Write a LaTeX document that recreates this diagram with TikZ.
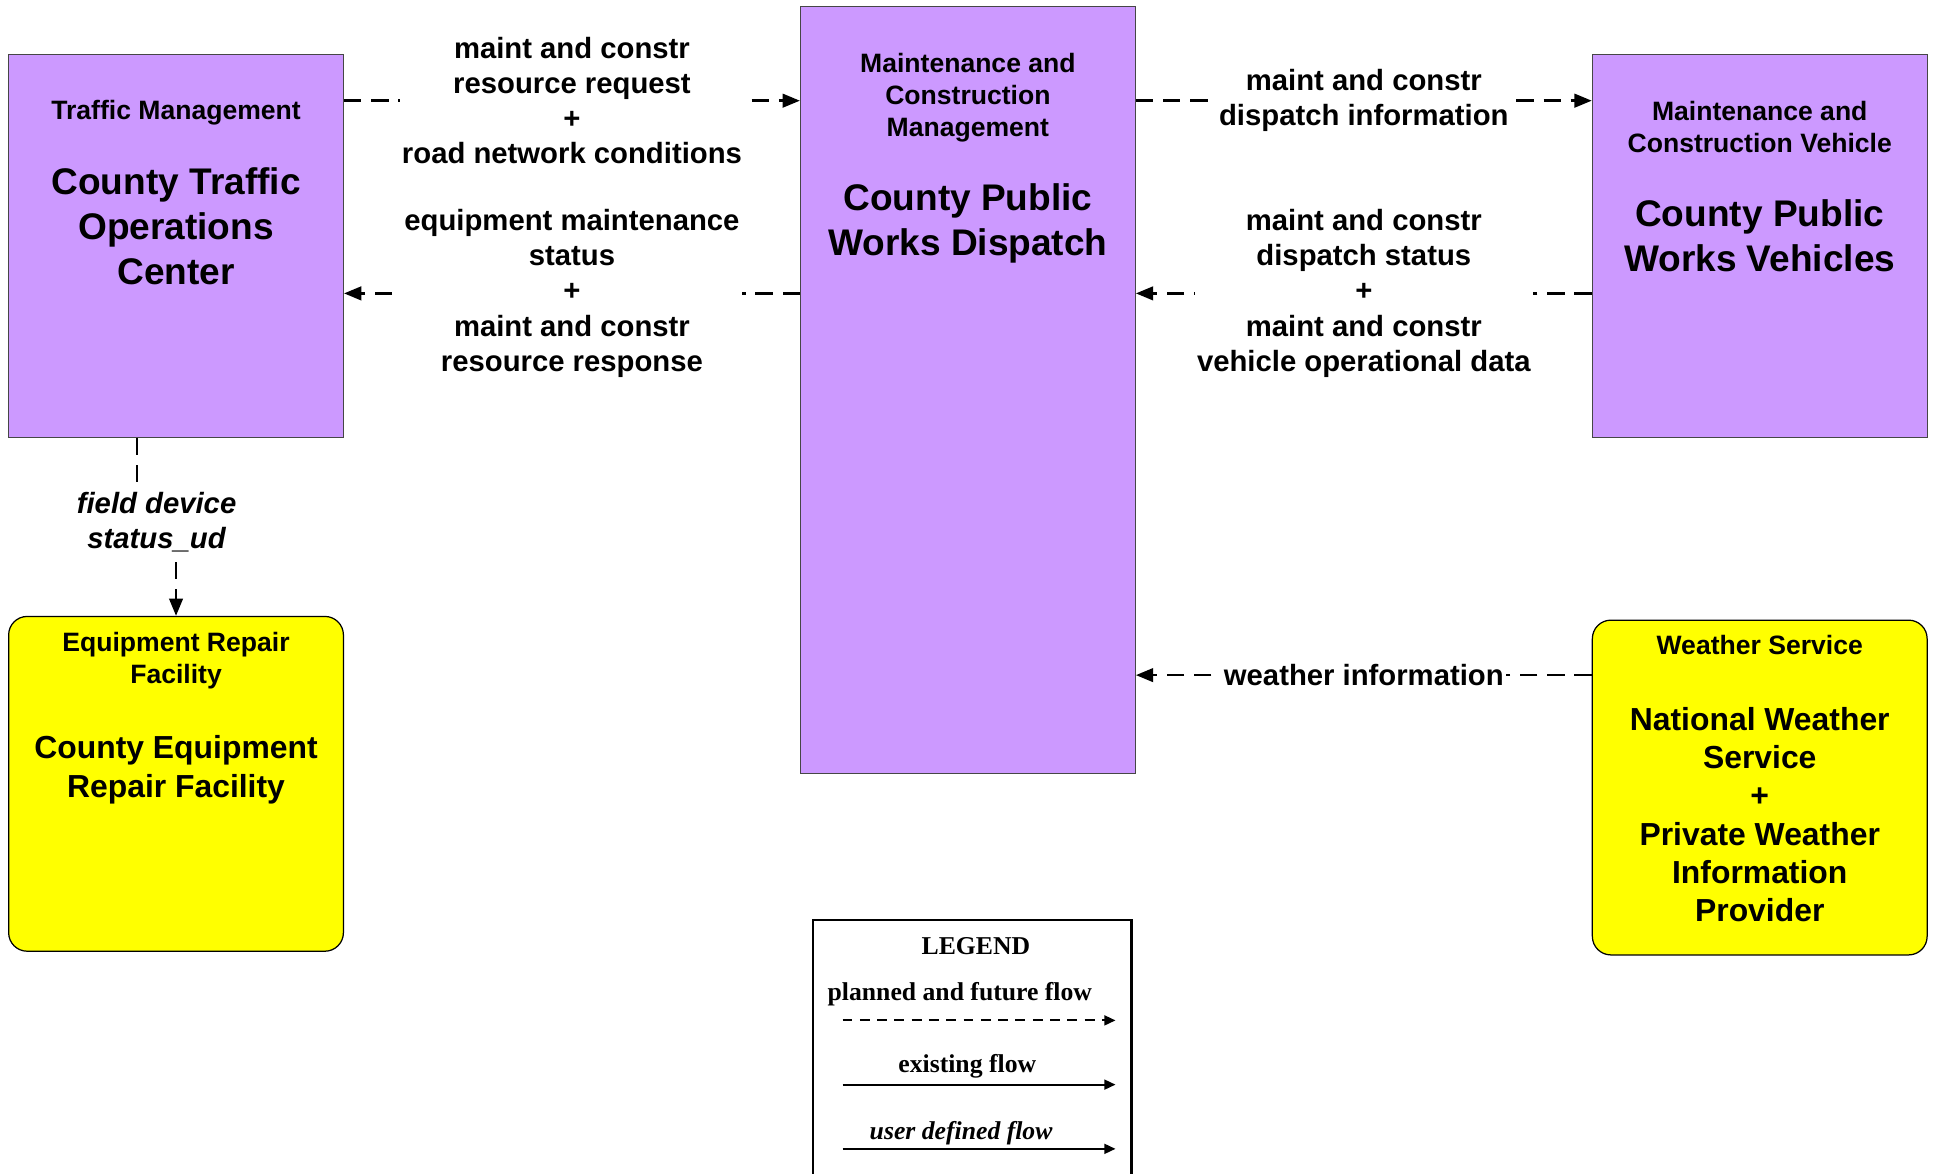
\documentclass[tikz,border=0pt]{standalone}
\usepackage{fontspec}
\setmainfont{Liberation Sans}
\newfontfamily\legfont{Liberation Serif}
\usetikzlibrary{positioning,arrows.meta,calc}
\definecolor{pFill}{RGB}{204,153,255}
\definecolor{yFill}{RGB}{255,255,0}
\definecolor{bLine}{RGB}{70,70,70}
\newcommand{\fTitle}{\fontsize{21.5}{26}\selectfont\bfseries}
\newcommand{\fName}{\fontsize{30}{36.5}\selectfont\bfseries}
\newcommand{\fNameS}{\fontsize{25.8}{31}\selectfont\bfseries}
\newcommand{\fFlow}{\fontsize{23.7}{28.5}\selectfont\bfseries}
\newcommand{\fLeg}{\legfont\fontsize{20.8}{25}\selectfont\bfseries}
\tikzset{
  sub/.style={rectangle, draw=bLine, fill=pFill, line width=1pt,
              minimum width=271pt, inner sep=0pt},
  term/.style={rectangle, rounded corners=15pt, draw=black, fill=yFill, line width=1pt,
               minimum width=271pt, minimum height=271pt, inner sep=0pt},
  ttl/.style={align=center, font=\fTitle, inner sep=0pt},
  nm/.style={align=center, font=\fName, inner sep=0pt},
  nms/.style={align=center, font=\fNameS, inner sep=0pt},
  flowd/.style={-{Triangle[length=14pt,width=11pt]}, line width=2pt,
                dash pattern=on 14pt off 8pt},
  lbl/.style={align=center, font=\fFlow, fill=white, inner sep=2pt},
  legbox/.style={rectangle, draw=black, line width=1.8pt, minimum width=258pt,
                 minimum height=232pt, anchor=north west},
  legtxt/.style={font=\fLeg, inner sep=0pt},
  legflow/.style={-{Triangle[length=9pt,width=8pt]}, line width=1.6pt},
}
\newcommand{\Flow}[3]{% {from}{to}{label}
  \draw[flowd] (#1) -- node[lbl]{#3} (#2);}

\begin{document}
\begin{tikzpicture}[x=1pt, y=-1pt]
  \useasboundingbox (0,0) rectangle (1568,950);
  % subsystems
  \node[sub, minimum height=310pt] (tmc) at (142.5,199) {};
  \node[sub, minimum height=621pt] (mcm) at (783.5,315.5) {};
  \node[sub, minimum height=310pt] (mcv) at (1424.5,199) {};
  \node[term] (erf) at (142.5,634.5) {};
  \node[term] (nws) at (1424.5,637.5) {};
  \node[ttl] (tmc-t) at (142.5,91) {Traffic Management};
  \node[nm]  (tmc-n) at (142.5,183) {County Traffic\\Operations\\Center};
  \node[ttl] (mcm-t) at (783.5,79) {Maintenance and\\Construction\\Management};
  \node[nm]  (mcm-n) at (783.5,181) {County Public\\Works Dispatch};
  \node[ttl] (mcv-t) at (1424.5,103) {Maintenance and\\Construction Vehicle};
  \node[nm]  (mcv-n) at (1424.5,190.5) {County Public\\Works Vehicles};
  \node[ttl] (erf-t) at (142.5,534.5) {Equipment Repair\\Facility};
  \node[nms] (erf-n) at (142.5,623) {County Equipment\\Repair Facility};
  \node[ttl] (nws-t) at (1424.5,522) {Weather Service};
  \node[nms] (nws-n) at (1424.5,659.5) {National Weather\\Service\\+\\Private Weather\\Information\\Provider};
  % flows
  \coordinate (fa) at ([yshift=-38pt]tmc.north east);
  \coordinate (fb) at ([yshift=-194pt]tmc.north east);
  \coordinate (fe) at ([yshift=-45pt]nws.north west);
  \Flow{fa}{fa -| mcm.west}{maint and constr\\resource request\\+\\road network conditions}
  \Flow{fb -| mcm.west}{fb}{equipment maintenance\\status\\+\\maint and constr\\resource response}
  \Flow{fa -| mcm.east}{fa -| mcv.west}{maint and constr\\dispatch information}
  \Flow{fb -| mcv.west}{fb -| mcm.east}{maint and constr\\dispatch status\\+\\maint and constr\\vehicle operational data}
  \Flow{fe}{fe -| mcm.east}{weather information}
  \draw[flowd] ([xshift=-31.5pt]tmc.south) -- ++(0,68)
    -| node[lbl, font=\fFlow\itshape, pos=0.25]{field device\\status\_ud} (erf.north);
  % legend
  \node[legbox] (legend) at (657,744) {};
  \node[legtxt] (leg-h) at (790,766) {LEGEND};
  \node[legtxt] (leg-p) at (777,805) {planned and future flow};
  \node[legtxt] (leg-e) at (783,863) {existing flow};
  \node[legtxt, font=\fLeg\itshape] (leg-u) at (778,917) {user defined flow};
  \coordinate (lp1) at (682,826); \coordinate (lp2) at (903,826);
  \coordinate (le1) at (682,878); \coordinate (le2) at (903,878);
  \coordinate (lu1) at (682,930); \coordinate (lu2) at (903,930);
  \draw[legflow, dash pattern=on 8pt off 6pt] (lp1) -- (lp2);
  \draw[legflow] (le1) -- (le2);
  \draw[legflow] (lu1) -- (lu2);
\end{tikzpicture}
\end{document}
